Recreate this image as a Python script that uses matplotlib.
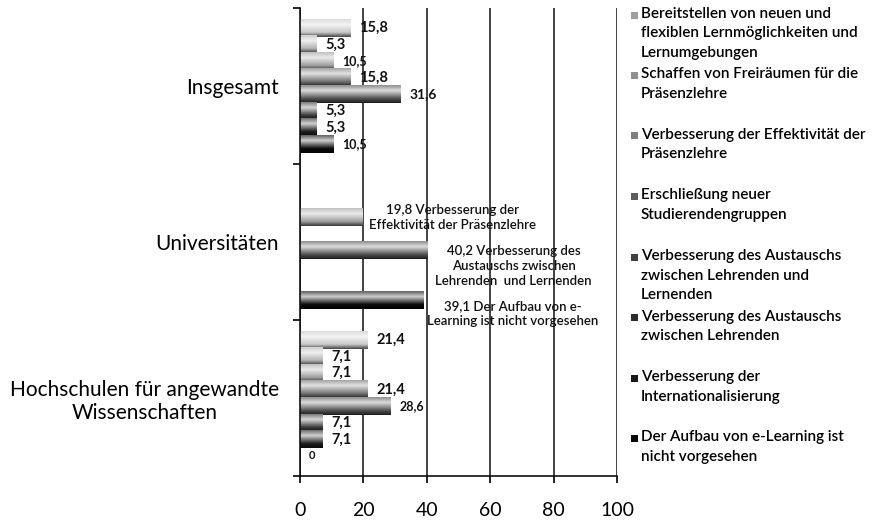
import numpy as np
import matplotlib.pyplot as plt
from matplotlib.colors import LinearSegmentedColormap
from matplotlib.patches import Rectangle

plt.rcParams["font.family"] = ["Lato", "DejaVu Sans"]

categories = ["Insgesamt", "Universitäten", "Hochschulen für angewandte\nWissenschaften"]
series = [
    "Bereitstellen von neuen und\nflexiblen Lernmöglichkeiten und\nLernumgebungen",
    "Schaffen von Freiräumen für die\nPräsenzlehre",
    "Verbesserung der Effektivität der\nPräsenzlehre",
    "Erschließung neuer\nStudierendengruppen",
    "Verbesserung des Austauschs\nzwischen Lehrenden und\nLernenden",
    "Verbesserung des Austauschs\nzwischen Lehrenden",
    "Verbesserung der\nInternationalisierung",
    "Der Aufbau von e-Learning ist\nnicht vorgesehen",
]
nan = np.nan
insgesamt = [15.8, 5.3, 10.5, 15.8, 31.6, 5.3, 5.3, 10.5]
universitaeten = [nan, nan, 19.8, nan, 40.2, nan, nan, 39.1]
hochschulen = [21.4, 7.1, 7.1, 21.4, 28.6, 7.1, 7.1, 0]
uni_notes = ["", "", "Verbesserung der\nEffektivität der Präsenzlehre", "",
             "Verbesserung des\nAustauschs zwischen\nLehrenden  und Lernenden", "", "",
             "Der Aufbau von e-\nLearning ist nicht vorgesehen"]

values = np.array([insgesamt, universitaeten, hochschulen])  # category x series

# grey level of each series, light -> black
greys = [0.78, 0.70, 0.62, 0.45, 0.32, 0.22, 0.12, 0.04]


def shade(g):
    top = g + (1 - g) * 0.35
    hi = g + (1 - g) * 0.80
    bot = g * 0.35
    return LinearSegmentedColormap.from_list(
        "s", [(0, (top,) * 3), (0.3, (hi,) * 3), (0.75, (g,) * 3), (1, (bot,) * 3)])


W, H = 881, 520
fig = plt.figure(figsize=(W / 100, H / 100), dpi=100)
ax = fig.add_axes([300 / W, 44 / H, 317 / W, 468 / H])

slot = 0.106
bar_h = 0.112
y = np.arange(len(categories))
grad = np.linspace(0, 1, 64).reshape(-1, 1)

label_sizes = [[10.5, 10.5, 9, 10.5, 10, 10.5, 10.5, 9],
               [9, 9, 9, 9, 9, 9, 9, 9],
               [10.5, 10.5, 10.5, 10.5, 9, 10.5, 10.5, 8]]
uni_offsets = {2: (90, 0), 4: (86, -16), 7: (89, -14)}

for i in range(len(series)):
    bars = ax.barh(y + (i - 3.5) * slot, values[:, i], height=bar_h,
                   facecolor="none", edgecolor="none")
    cmap = shade(greys[i])
    for c, bar in enumerate(bars):
        v = values[c, i]
        if np.isnan(v):
            continue
        x0, y0, w, h = bar.get_x(), bar.get_y(), bar.get_width(), bar.get_height()
        if w > 0:
            ax.imshow(grad, cmap=cmap, vmin=0, vmax=1, aspect="auto", origin="upper",
                      extent=(x0, x0 + w, y0 + h, y0), interpolation="bilinear", zorder=2)
        yc = y0 + h / 2
        txt = f"{v:g}".replace(".", ",")
        if c == 1:
            ax.annotate(txt + " " + uni_notes[i], xy=(v, yc), xytext=uni_offsets[i],
                        textcoords="offset pixels", ha="center", va="center",
                        multialignment="center", fontsize=9.5, fontweight="semibold",
                        color="#111", linespacing=1.3, zorder=4)
        else:
            ax.annotate(txt, xy=(v, yc), xytext=(9, 0), textcoords="offset pixels",
                        ha="left", va="center", fontsize=label_sizes[c][i],
                        fontweight="bold", color="#111", zorder=4)

ax.set_xlim(0, 100)
ax.set_ylim(2.5, -0.5)
ax.set_xticks(range(0, 101, 20))
ax.tick_params(axis="x", direction="out", length=5, width=1.2, pad=14, labelsize=14)
ax.set_yticks(y, categories)
ax.set_yticks([-0.5, 0.5, 1.5, 2.5], minor=True)
ax.tick_params(axis="y", which="major", length=0, pad=15, labelsize=15)
ax.tick_params(axis="y", which="minor", length=5, width=1.2)
for lbl in ax.get_yticklabels():
    lbl.set_multialignment("center")
ax.grid(axis="x", color="#222", lw=1.2)
ax.set_axisbelow(True)
for s in ["top", "right"]:
    ax.spines[s].set_visible(False)
for s in ["left", "bottom"]:
    ax.spines[s].set_linewidth(1.2)
    ax.spines[s].set_color("#111")

# legend drawn by hand to keep Excel-like spacing
for i, lab in enumerate(series):
    yc = 15 + 60.5 * i
    fig.add_artist(Rectangle((631 / W, 1 - (yc + 3.5) / H), 7 / W, 7 / H,
                             transform=fig.transFigure, facecolor=str(greys[i] * 0.8),
                             edgecolor="none"))
    fig.text(641 / W, 1 - (yc - 8) / H, lab, ha="left", va="top", fontsize=11,
             fontweight="semibold", color="#000", linespacing=1.5)

fig.savefig("out.png", dpi=100)
